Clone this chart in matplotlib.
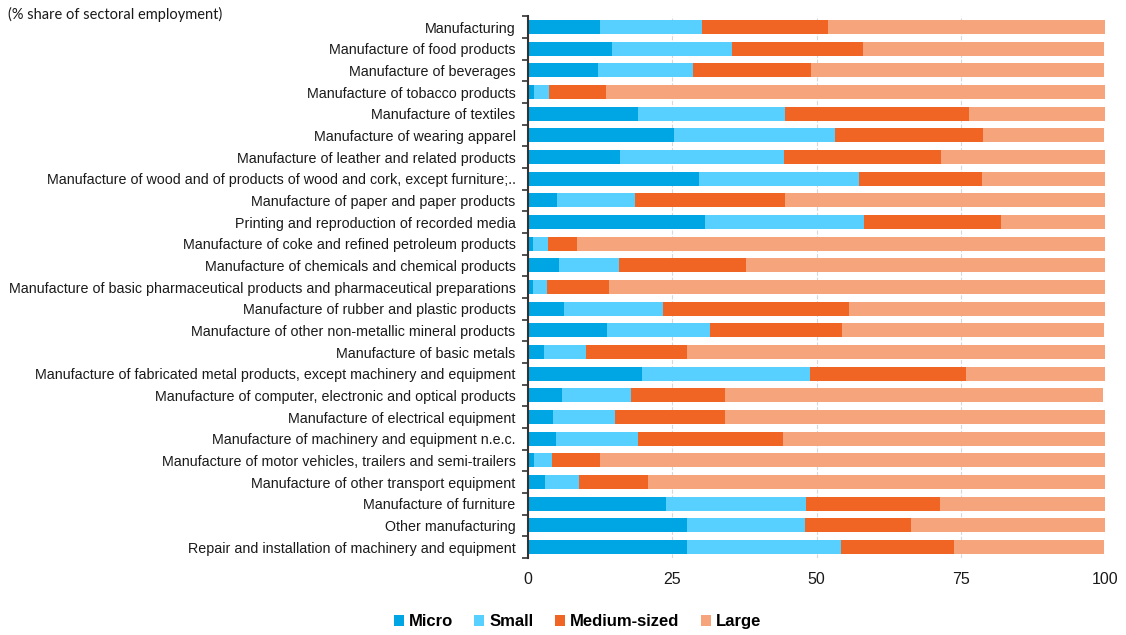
import numpy as np
import matplotlib
matplotlib.use("Agg")
import matplotlib.pyplot as plt
from matplotlib.ticker import FixedLocator

plt.rcParams["font.family"] = ["Liberation Sans", "DejaVu Sans"]

# Sectors, top to bottom
sectors = [
    "Manufacturing",
    "Manufacture of food products",
    "Manufacture of beverages",
    "Manufacture of tobacco products",
    "Manufacture of textiles",
    "Manufacture of wearing apparel",
    "Manufacture of leather and related products",
    "Manufacture of wood and of products of wood and cork, except furniture;..",
    "Manufacture of paper and paper products",
    "Printing and reproduction of recorded media",
    "Manufacture of coke and refined petroleum products",
    "Manufacture of chemicals and chemical products",
    "Manufacture of basic pharmaceutical products and pharmaceutical preparations",
    "Manufacture of rubber and plastic products",
    "Manufacture of other non-metallic mineral products",
    "Manufacture of basic metals",
    "Manufacture of fabricated metal products, except machinery and equipment",
    "Manufacture of computer, electronic and optical products",
    "Manufacture of electrical equipment",
    "Manufacture of machinery and equipment n.e.c.",
    "Manufacture of motor vehicles, trailers and semi-trailers",
    "Manufacture of other transport equipment",
    "Manufacture of furniture",
    "Other manufacturing",
    "Repair and installation of machinery and equipment",
]

# % share of sectoral employment by enterprise size class
micro = [12.5, 14.6, 12.2, 1.0, 19.1, 25.3, 15.9, 29.6, 5.0, 30.6, 0.8, 5.4, 0.8,
         6.2, 13.7, 2.7, 19.7, 5.9, 4.3, 4.9, 1.1, 2.9, 23.9, 27.6, 27.5]
small = [17.6, 20.7, 16.3, 2.6, 25.5, 27.9, 28.4, 27.8, 13.6, 27.7, 2.6, 10.3, 2.4,
         17.2, 17.8, 7.3, 29.2, 11.9, 10.7, 14.2, 3.1, 5.9, 24.2, 20.4, 26.7]
medium = [21.8, 22.8, 20.6, 9.9, 31.8, 25.6, 27.3, 21.3, 25.9, 23.6, 5.0, 22.0, 10.9,
          32.2, 22.9, 17.5, 27.0, 16.3, 19.1, 25.0, 8.3, 12.0, 23.3, 18.4, 19.6]
large = [48.1, 41.7, 50.7, 86.5, 23.6, 21.0, 28.4, 21.3, 55.5, 18.1, 91.6, 62.3, 85.9,
         44.4, 45.4, 72.5, 24.1, 65.6, 65.9, 55.9, 87.5, 79.2, 28.6, 33.6, 26.0]

series = ["Micro", "Small", "Medium-sized", "Large"]
colors = ["#00A6E3", "#57D0FF", "#F06424", "#F5A47C"]

fig = plt.figure(figsize=(11.26, 6.35), dpi=100)
ax = fig.add_axes([0.469, 0.1214, 0.5124, 0.8531])

y = np.arange(len(sectors))
left = np.zeros(len(sectors))
for name, vals, col in zip(series, [micro, small, medium, large], colors):
    vals = np.array(vals)
    ax.barh(y, vals, left=left, height=0.65, color=col, label=name, zorder=2)
    left += vals

ax.set_ylim(len(sectors) - 0.5, -0.5)
ax.set_xlim(0, 100)
ax.set_yticks(y)
ax.set_yticklabels(sectors, fontsize=10.3, color="#1a1a1a")
ax.yaxis.set_minor_locator(FixedLocator(np.arange(-0.5, len(sectors), 1.0)))
ax.tick_params(axis="y", which="major", length=0, pad=9)
ax.tick_params(axis="y", which="minor", length=4, width=1.2, color="#333333")

ax.set_xticks([0, 25, 50, 75, 100])
ax.tick_params(axis="x", length=0, pad=10, labelsize=11.5, labelcolor="#1a1a1a")
ax.grid(axis="x", color="#d8d8d8", linestyle="--", linewidth=0.8, zorder=0)

for side in ["top", "right", "bottom"]:
    ax.spines[side].set_visible(False)
ax.spines["left"].set_color("#333333")
ax.spines["left"].set_linewidth(1.5)

fig.text(0.007, 0.978, "(% share of sectoral employment)", fontsize=10.5,
         family=["Lato", "DejaVu Sans"], color="#1a1a1a", va="center", ha="left")

fig.legend(loc="center", bbox_to_anchor=(0.513, 0.021), ncol=4, frameon=False,
           handlelength=0.6, handleheight=0.6, handletextpad=0.3, columnspacing=1.3,
           prop={"weight": "bold", "size": 12})

fig.savefig("out.png", dpi=100)
